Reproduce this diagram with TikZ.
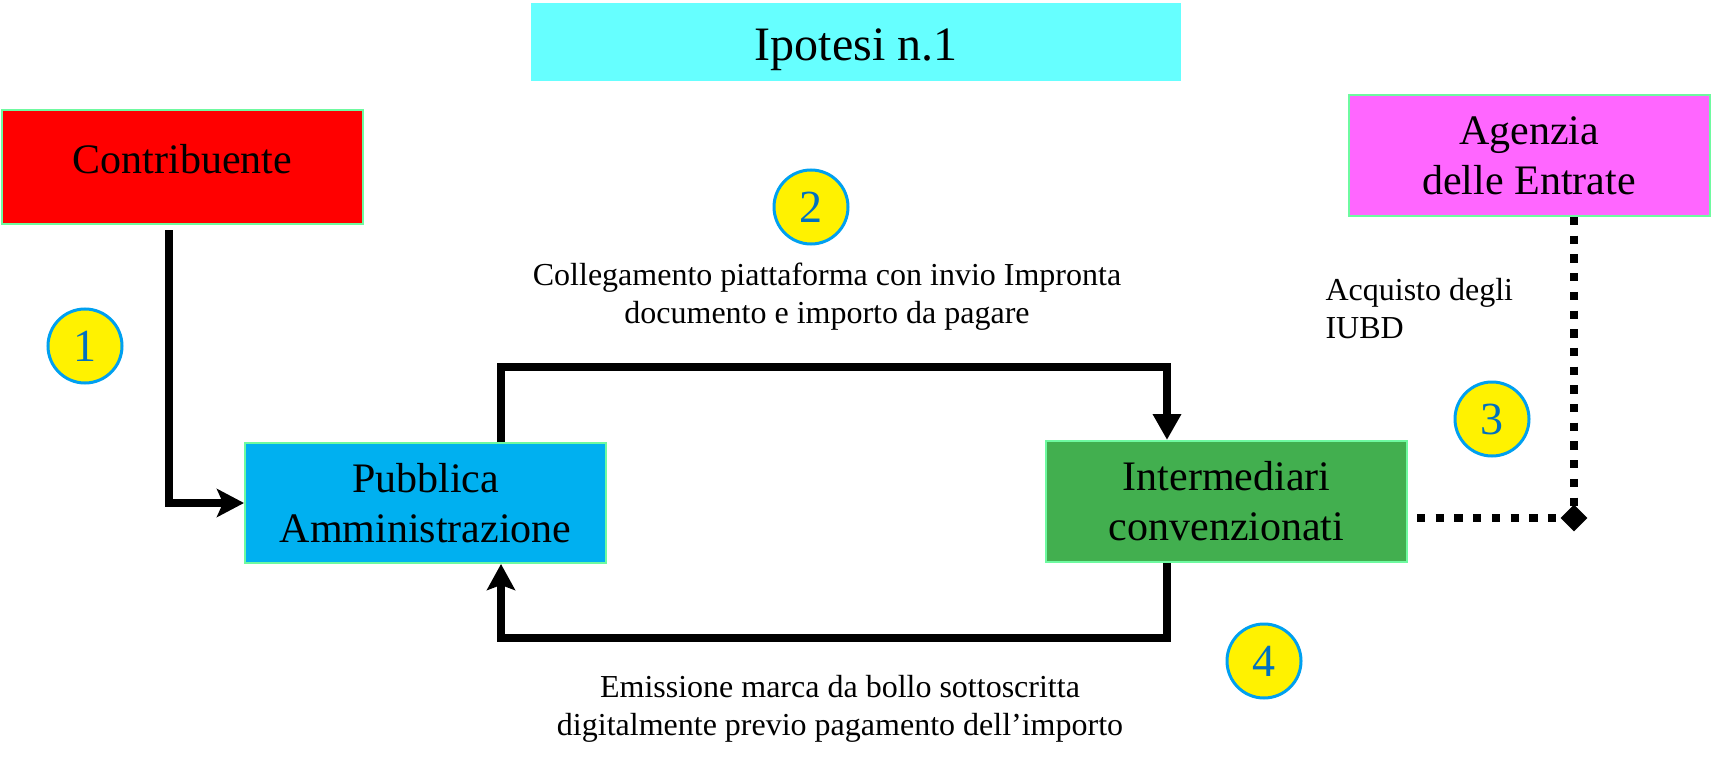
\documentclass[tikz,border=0pt]{standalone}
\usepackage{fontspec}
\setmainfont{Liberation Serif}
\usetikzlibrary{arrows.meta,shapes.geometric}

\definecolor{titlecyan}{RGB}{102,255,255}
\definecolor{contribred}{RGB}{255,0,0}
\definecolor{pablue}{RGB}{0,176,240}
\definecolor{intgreen}{RGB}{66,175,79}
\definecolor{adepink}{RGB}{255,102,255}
\definecolor{edgegreen}{RGB}{110,250,160}
\definecolor{numring}{RGB}{0,160,240}
\definecolor{numblue}{RGB}{0,112,192}

\begin{document}
\begin{tikzpicture}[x=1pt,y=-1pt,
  box/.style={rectangle,draw=edgegreen,line width=2pt,inner sep=0pt,
    minimum width=361pt,minimum height=120pt,align=center,
    font=\fontsize{42}{50}\selectfont},
  num/.style={circle,fill=yellow,draw=numring,line width=3pt,
    minimum size=74pt,inner sep=0pt,text=numblue,
    font=\fontsize{46}{46}\selectfont},
  note/.style={align=center,font=\fontsize{32}{38}\selectfont},
  flow/.style={line width=8pt},
  dots/.style={line width=8pt,dash pattern=on 8.3pt off 10.4pt}]
  \useasboundingbox (0,0) rectangle (1711,757);

  \node[fill=titlecyan,minimum width=650pt,minimum height=78pt,inner sep=0pt,
    text height=48pt,text depth=10.2pt,
    font=\fontsize{48}{48}\selectfont] (title) at (856,42) {Ipotesi n.1};

  \node[box,fill=contribred,minimum height=114pt,text depth=16pt] (contrib) at (182.5,167) {Contribuente};
  \node[box,fill=adepink,minimum height=121pt] (ade) at (1529,155.5) {Agenzia\\delle Entrate};
  \node[box,fill=pablue] (pa) at (425.5,503) {Pubblica\\Amministrazione};
  \node[box,fill=intgreen,minimum height=121pt] (inter) at (1226.5,501.5) {Intermediari\\convenzionati};

  \node[num] (n1) at (85,346) {1};
  \node[num] (n2) at (811,207) {2};
  \node[num] (n3) at (1492,419) {3};
  \node[num] (n4) at (1264,661) {4};

  \node[note] (collega) at (827,296.5) {Collegamento piattaforma con invio Impronta\\documento e importo da pagare};
  \node[note] (emiss) at (840,708.5) {Emissione marca da bollo sottoscritta\\digitalmente previo pagamento dell’importo};
  \node[note,align=left,anchor=west] (acquisto) at (1322,308.5) {Acquisto degli\\IUBD};

  \draw[flow,-{Stealth[length=27pt,width=28pt,inset=6pt]}]
    ([xshift=-13.5pt,yshift=-5pt]contrib.south) |- (pa.west);
  \draw[flow,-{Triangle[length=26pt,width=27pt]}]
    ([xshift=75.5pt]pa.north) -- ++(0,-75) -| ([xshift=-59.5pt]inter.north);
  \draw[flow,-{Stealth[length=26pt,width=28pt,inset=5pt]}]
    ([xshift=-59.5pt]inter.south) -- ++(0,75) -| ([xshift=75.5pt]pa.south);

  \coordinate (corner) at (1574,518);
  \draw[dots] ([xshift=45pt]ade.south) -- (corner);
  \draw[dots] ([xshift=9pt]inter.east |- corner) -- (corner);
  \node[diamond,fill=black,inner sep=0pt,minimum width=27pt,minimum height=27pt]
    (cornertip) at (corner) {};
\end{tikzpicture}
\end{document}
